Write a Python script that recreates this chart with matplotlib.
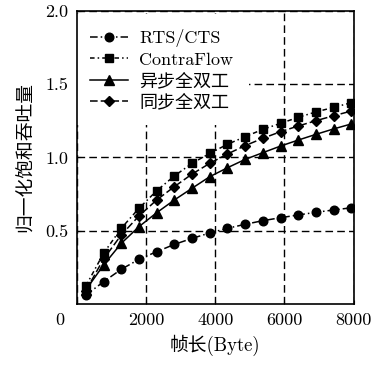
import matplotlib
matplotlib.use('Agg')
import matplotlib.pyplot as plt
import matplotlib.transforms as mtransforms

plt.rcParams['font.family'] = ['cmr10', 'Noto Sans CJK SC', 'DejaVu Serif']
plt.rcParams['axes.formatter.use_mathtext'] = True

# frame length (Byte)
frame_len = [256, 768, 1280, 1792, 2304, 2816, 3328, 3840,
             4352, 4864, 5376, 5888, 6400, 6912, 7424, 7936]

# normalised saturation throughput
rts_cts = [0.061, 0.152, 0.237, 0.305, 0.357, 0.407, 0.448, 0.485,
           0.517, 0.544, 0.569, 0.589, 0.608, 0.626, 0.642, 0.657]
contraflow = [0.123, 0.346, 0.517, 0.653, 0.773, 0.874, 0.960, 1.028,
              1.090, 1.142, 1.192, 1.233, 1.274, 1.311, 1.342, 1.374]
async_fd = [0.096, 0.266, 0.414, 0.528, 0.623, 0.710, 0.790, 0.869,
            0.930, 0.987, 1.033, 1.078, 1.119, 1.158, 1.195, 1.229]
sync_fd = [0.091, 0.307, 0.471, 0.601, 0.710, 0.801, 0.887, 0.960,
           1.024, 1.081, 1.131, 1.176, 1.215, 1.251, 1.285, 1.317]

xticks = [0, 2000, 4000, 6000, 8000]
yticks = [0.5, 1.0, 1.5, 2.0]

fig = plt.figure(figsize=(3.71, 3.65), dpi=100)
ax = fig.add_axes([0.2075, 0.167, 0.7455, 0.803])

ax.plot(frame_len, rts_cts, color='black', marker='o', markersize=6.2,
        linestyle=(0, (5, 2, 1, 2)), linewidth=1.1, label='RTS/CTS')
ax.plot(frame_len, contraflow, color='black', marker='s', markersize=5.5,
        linestyle=(0, (3, 2, 1, 2)), linewidth=1.1, label='ContraFlow')
ax.plot(frame_len, async_fd, color='black', marker='^', markersize=6.8,
        linestyle='-', linewidth=1.1, label='异步全双工')
ax.plot(frame_len, sync_fd, color='black', marker='D', markersize=5.2,
        linestyle=(0, (5, 2)), linewidth=1.1, label='同步全双工')

ax.set_xlim(0, 8000)
ax.set_ylim(0, 2.0)
ax.set_xticks(xticks)
ax.set_xticklabels([str(t) for t in xticks])
ax.set_yticks(yticks)
ax.set_yticklabels(['%.1f' % t for t in yticks])
ax.tick_params(direction='in', length=3, labelsize=13, pad=6)
for s in ax.spines.values():
    s.set_linewidth(1.2)
    s.set_zorder(6)

# the "0" label sits left of the corner
lbl0 = ax.get_xticklabels()[0]
lbl0.set_transform(lbl0.get_transform() +
                   mtransforms.ScaledTranslation(-17 / 100, 0, fig.dpi_scale_trans))

ax.grid(True, color='black', linestyle=(0, (5.5, 3)), linewidth=1)

ax.set_xlabel('帧长(Byte)', fontsize=13.5, labelpad=5)
ax.set_ylabel('归一化饱和吞吐量', fontsize=13.5, labelpad=8)

leg = ax.legend(loc='upper left', bbox_to_anchor=(0, 0.98), fontsize=13,
                frameon=True, fancybox=False,
                edgecolor='none', facecolor='white', framealpha=1,
                handlelength=2.1, handletextpad=0.65, labelspacing=0.25,
                borderpad=0.4, borderaxespad=0.3)
leg.set_zorder(5)
# white box reaches the top of the axes, hiding the grid there
leg.get_frame().set_boxstyle('square', pad=0.45)

plt.savefig('out.png', dpi=100)
